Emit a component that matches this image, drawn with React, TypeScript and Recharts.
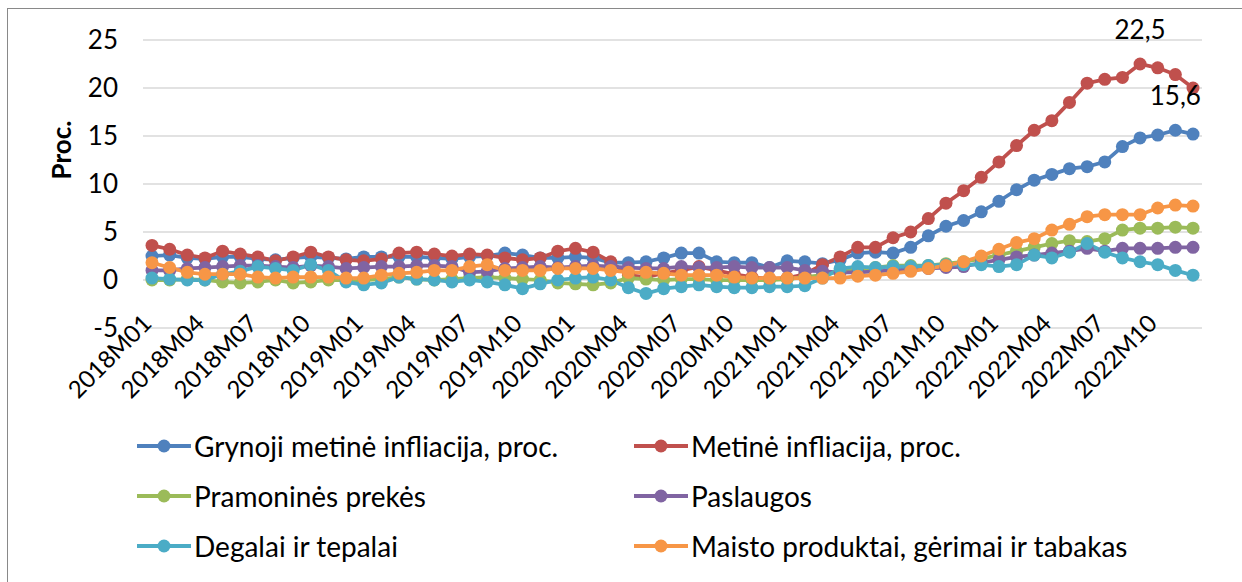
import { LineChart, Line, XAxis, YAxis, CartesianGrid, Legend } from 'recharts';

const FONT = 'Lato, "Noto Sans", sans-serif';

const YEARS = ['2018', '2019', '2020', '2021', '2022'];
const MONTHS = ['M01', 'M02', 'M03', 'M04', 'M05', 'M06', 'M07', 'M08', 'M09', 'M10', 'M11', 'M12'];
const categories = YEARS.flatMap((y) => MONTHS.map((m) => y + m));

const yTicks = [-5, 0, 5, 10, 15, 20, 25];

// Grynoji metinė infliacija
const grynoji = [
  2.5, 2.6, 2.3, 2.2, 2.4, 2.4, 2.2, 2.1, 2.3, 2.4, 2.3, 2.2,
  2.4, 2.4, 2.4, 2.4, 2.3, 2.2, 2.4, 2.5, 2.8, 2.6, 2.3, 2.3,
  2.4, 2.3, 1.8, 1.8, 1.9, 2.3, 2.8, 2.8, 1.9, 1.8, 1.8, 1.3,
  2.0, 1.9, 1.7, 2.1, 2.8, 2.9, 2.8, 3.4, 4.6, 5.6, 6.2, 7.1,
  8.2, 9.4, 10.4, 11.0, 11.6, 11.8, 12.3, 13.9, 14.8, 15.1, 15.6, 15.2,
];

// Metinė infliacija
const metine = [
  3.6, 3.2, 2.6, 2.3, 3.0, 2.7, 2.4, 2.0, 2.4, 2.9, 2.4, 2.1,
  2.0, 2.2, 2.8, 2.9, 2.7, 2.5, 2.7, 2.6, 2.3, 2.1, 2.3, 3.0,
  3.3, 2.9, 1.9, 0.5, 0.3, 0.7, 1.0, 1.4, 1.0, 0.6, 0.3, 0.1,
  0.2, 0.6, 1.6, 2.4, 3.4, 3.4, 4.4, 5.0, 6.4, 8.0, 9.3, 10.7,
  12.3, 14.0, 15.6, 16.6, 18.5, 20.5, 20.9, 21.1, 22.5, 22.1, 21.4, 20.0,
];

// Pramoninės prekės
const pramonines = [
  0.0, 0.0, 0.1, 0.0, -0.2, -0.3, -0.2, 0.0, -0.3, -0.2, 0.0, 0.0,
  0.0, 0.1, 0.3, 0.1, 0.0, 0.1, 0.2, 0.3, 0.2, 0.1, 0.0, -0.3,
  -0.4, -0.5, -0.3, 0.2, 0.1, 0.0, 0.1, 0.1, 0.0, 0.0, 0.0, 0.0,
  0.1, 0.3, 0.5, 0.9, 1.1, 1.3, 1.5, 1.5, 1.5, 1.7, 1.9, 2.2,
  2.6, 3.0, 3.4, 3.8, 4.1, 4.0, 4.3, 5.2, 5.4, 5.4, 5.5, 5.4,
];

// Paslaugos
const paslaugos = [
  1.0, 1.0, 1.2, 1.3, 1.4, 1.5, 1.5, 1.4, 1.3, 1.5, 1.4, 1.2,
  1.3, 1.4, 1.4, 1.5, 1.5, 1.4, 0.8, 0.9, 1.2, 1.3, 1.4, 1.3,
  1.4, 1.5, 1.4, 1.3, 1.2, 1.2, 1.4, 1.3, 1.3, 1.4, 1.3, 1.3,
  1.3, 1.0, 0.9, 0.8, 0.8, 0.9, 1.0, 1.1, 1.2, 1.3, 1.4, 1.8,
  2.1, 2.4, 2.6, 2.8, 3.0, 3.3, 3.0, 3.3, 3.3, 3.3, 3.4, 3.4,
];

// Degalai ir tepalai
const degalai = [
  0.2, 0.1, 0.0, 0.0, 0.6, 0.9, 1.4, 1.2, 1.0, 1.6, 1.0, -0.2,
  -0.5, -0.3, 0.3, 0.1, 0.0, -0.2, 0.0, -0.2, -0.5, -0.9, -0.4, 0.0,
  0.2, 0.3, 0.0, -0.8, -1.4, -0.9, -0.7, -0.5, -0.7, -0.8, -0.8, -0.7,
  -0.7, -0.6, 0.2, 1.2, 1.4, 1.3, 1.4, 1.4, 1.5, 1.6, 1.6, 1.6,
  1.4, 1.6, 2.6, 2.3, 2.9, 3.8, 2.9, 2.3, 1.9, 1.6, 1.0, 0.5,
];

// Maisto produktai, gėrimai ir tabakas
const maisto = [
  1.8, 1.3, 0.8, 0.6, 0.6, 0.6, 0.3, 0.2, 0.3, 0.3, 0.3, 0.2,
  0.2, 0.5, 0.7, 0.8, 1.0, 1.0, 1.4, 1.6, 1.0, 1.0, 1.0, 1.2,
  1.2, 1.2, 1.0, 0.8, 0.8, 0.7, 0.5, 0.5, 0.5, 0.3, 0.2, 0.2,
  0.2, 0.2, 0.2, 0.2, 0.4, 0.5, 0.7, 0.9, 1.2, 1.5, 1.9, 2.5,
  3.2, 3.9, 4.3, 5.2, 5.8, 6.6, 6.8, 6.8, 6.8, 7.5, 7.8, 7.7,
];

const SERIES = [
  { key: 'grynoji', name: 'Grynoji metinė infliacija, proc.', color: '#4F81BD', values: grynoji, labelAt: 58 },
  { key: 'metine', name: 'Metinė infliacija, proc.', color: '#C0504D', values: metine, labelAt: 56 },
  { key: 'pramonines', name: 'Pramoninės prekės', color: '#9BBB59', values: pramonines, labelAt: -1 },
  { key: 'paslaugos', name: 'Paslaugos', color: '#8064A2', values: paslaugos, labelAt: -1 },
  { key: 'degalai', name: 'Degalai ir tepalai', color: '#4BACC6', values: degalai, labelAt: -1 },
  { key: 'maisto', name: 'Maisto produktai, gėrimai ir tabakas', color: '#F79646', values: maisto, labelAt: -1 },
];

const data = categories.map((month, i) => {
  const row: Record<string, string | number> = { month };
  SERIES.forEach((s) => {
    row[s.key] = s.values[i];
  });
  return row;
});

// rotated month label, its end sits on the tick
function MonthTick({ x, y, payload }: any) {
  const tx = x + 1;
  const ty = y - 3;
  return (
    <text
      x={tx}
      y={ty}
      transform={`rotate(-45, ${tx}, ${ty})`}
      textAnchor="end"
      fontSize={24}
      fill="#000"
    >
      {payload.value}
    </text>
  );
}

function makeLabel(at: number) {
  return (props: any) => {
    const { x, y, index, value } = props;
    if (index !== at) return null;
    return (
      <text x={x} y={y - 34} textAnchor="middle" dy="0.35em" fontSize={26} fill="#000">
        {Number(value).toFixed(1).replace('.', ',')}
      </text>
    );
  };
}

function LegendGrid() {
  return (
    <div style={{ display: 'grid', gridTemplateColumns: '497px 540px' }}>
      {SERIES.map((s) => (
        <div
          key={s.key}
          style={{ display: 'flex', alignItems: 'center', height: 50, fontSize: 28, color: '#000', whiteSpace: 'nowrap' }}
        >
          <svg width={56} height={16} style={{ marginRight: 2, flex: 'none' }}>
            <line x1={1} y1={8} x2={55} y2={8} stroke={s.color} strokeWidth={4} />
            <circle cx={28} cy={8} r={6.5} fill={s.color} />
          </svg>
          <span>{s.name}</span>
        </div>
      ))}
    </div>
  );
}

export default function App() {
  return (
    <div style={{ position: 'absolute', left: 0, top: 0, width: 1242, height: 582, background: '#fff', fontFamily: FONT }}>
      <div
        style={{
          position: 'absolute',
          left: 7,
          top: 8,
          right: 0,
          bottom: 0,
          borderLeft: '1px solid #898989',
          borderTop: '1px solid #898989',
        }}
      />
      <LineChart
        width={1242}
        height={582}
        data={data}
        margin={{ top: 40, right: 40, left: 0, bottom: 154 }}
      >
        <CartesianGrid vertical={false} stroke="#d9d9d9" strokeWidth={1.5} />
        <XAxis
          dataKey="month"
          interval={2}
          tickLine={false}
          axisLine={false}
          height={100}
          padding={{ left: 9, right: 9 }}
          tick={<MonthTick />}
          tickSize={0}
          tickMargin={0}
        />
        <YAxis
          domain={[-5, 25]}
          ticks={yTicks}
          width={143}
          tickLine={false}
          axisLine={false}
          tickSize={0}
          tickMargin={25}
          tick={{ fontSize: 26, fill: '#000' }}
          label={{
            value: 'Proc.',
            angle: -90,
            position: 'insideLeft',
            offset: 62,
            dy: -34,
            style: { fontSize: 26, fontWeight: 'bold', fill: '#000', textAnchor: 'middle' },
          }}
        />
        <Legend
          verticalAlign="middle"
          align="center"
          layout="horizontal"
          wrapperStyle={{ top: 421, left: 136, width: 1040 }}
          content={() => <LegendGrid />}
        />
        {SERIES.map((s) => (
          <Line
            key={s.key}
            type="linear"
            dataKey={s.key}
            name={s.name}
            stroke={s.color}
            strokeWidth={3.75}
            dot={{ r: 6.5, fill: s.color, stroke: s.color, strokeWidth: 0 }}
            activeDot={false}
            isAnimationActive={false}
            label={s.labelAt >= 0 ? makeLabel(s.labelAt) : false}
          />
        ))}
      </LineChart>
    </div>
  );
}
